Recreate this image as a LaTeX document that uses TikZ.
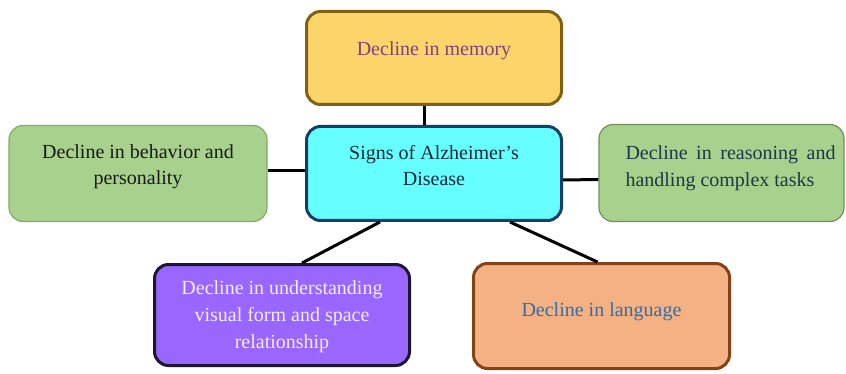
\documentclass[tikz,border=0pt]{standalone}
\usepackage{fontspec}
\setmainfont{Liberation Serif}
\usepackage{xcolor}
\usepackage{tikz}
\definecolor{memfill}{RGB}{252,213,106}
\definecolor{memdraw}{RGB}{128,98,20}
\definecolor{memtext}{RGB}{126,66,130}
\definecolor{signfill}{RGB}{102,255,255}
\definecolor{signdraw}{RGB}{22,62,104}
\definecolor{signtext}{RGB}{24,40,56}
\definecolor{greenfill}{RGB}{169,209,142}
\definecolor{greendraw}{RGB}{132,170,104}
\definecolor{reasontext}{RGB}{28,56,72}
\definecolor{visfill}{RGB}{153,102,255}
\definecolor{visdraw}{RGB}{30,22,44}
\definecolor{vistext}{RGB}{244,236,255}
\definecolor{langfill}{RGB}{244,177,131}
\definecolor{langdraw}{RGB}{132,66,22}
\definecolor{langtext}{RGB}{52,110,168}

\begin{document}
\begin{tikzpicture}[x=1pt,y=-1pt,
  box/.style={rectangle,rounded corners=14pt,inner sep=0pt},
  thickbox/.style={box,line width=3pt},
  thinbox/.style={box,line width=1.2pt},
  txt/.style={inner sep=0pt,align=center,font=\fontsize{20}{26}\selectfont},
  link/.style={line width=3pt,black}]
  \useasboundingbox (0,0) rectangle (846,374);
  \node[thickbox,draw=memdraw,fill=memfill,minimum width=255pt,minimum height=93pt] (memory) at (434,58) {};
  \node[thickbox,draw=signdraw,fill=signfill,minimum width=255pt,minimum height=94pt] (signs) at (434,173.5) {};
  \node[thinbox,draw=greendraw,fill=greenfill,minimum width=258pt,minimum height=96pt] (behavior) at (138,173.5) {};
  \node[thinbox,draw=greendraw!85!black,fill=greenfill,minimum width=245pt,minimum height=97pt] (reasoning) at (721.5,173) {};
  \node[thickbox,draw=visdraw,fill=visfill,minimum width=255pt,minimum height=101pt] (visual) at (282,315) {};
  \node[thickbox,draw=langdraw,fill=langfill,minimum width=256pt,minimum height=105pt] (language) at (601.5,316) {};

  \node[txt,text=memtext] (memorytext) at ([yshift=7pt]memory.center) {Decline in memory};
  \node[txt,text=signtext] (signstext) at ([yshift=8pt]signs.center) {Signs of Alzheimer’s\\ Disease};
  \node[txt,text=black!90] (behaviortext) at ([yshift=6.5pt]behavior.center) {Decline in behavior and\\ personality};
  \node[txt,text=reasontext,align=justify,text width=210pt,font=\fontsize{20}{27.5}\selectfont] (reasoningtext) at ([xshift=9pt,yshift=5pt]reasoning.center) {Decline in reasoning and handling complex tasks};
  \node[txt,text=vistext,font=\fontsize{20}{27}\selectfont] (visualtext) at ([yshift=-2pt]visual.center) {Decline in understanding\\ visual form and space\\ relationship};
  \node[txt,text=langtext] (languagetext) at ([yshift=4pt]language.center) {Decline in language};

  \draw[link] ([xshift=-10pt]memory.south) -- ([xshift=-10pt]signs.north);
  \draw[link] ([yshift=2.5pt]behavior.east) -- ([yshift=2.5pt]signs.west);
  \draw[link] ([yshift=-6.5pt]signs.east) -- ([yshift=-6.5pt]reasoning.west);
  \draw[link] ([xshift=-54pt]signs.south) -- ([xshift=20pt]visual.north);
  \draw[link] ([xshift=76pt]signs.south) -- ([xshift=-4pt]language.north);
\end{tikzpicture}
\end{document}
